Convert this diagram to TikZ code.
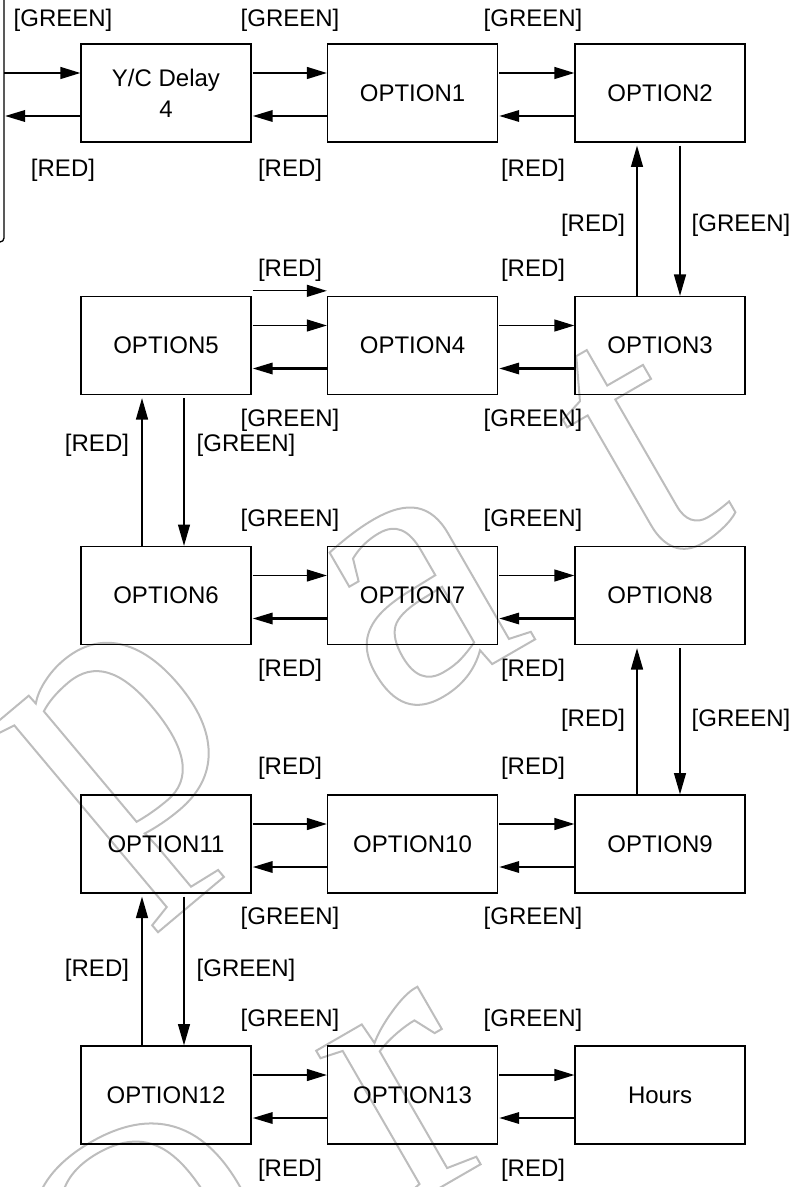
\documentclass[tikz,border=0pt]{standalone}
\usepackage{fontspec}
\setmainfont{Liberation Sans}
\newfontfamily\wmfont{Liberation Serif}
\usetikzlibrary{arrows.meta,calc}
\newcommand\wmletter[1]{\special{pdf:literal direct 0.74 G 1 Tr 1.5 w}#1\special{pdf:literal direct 0 Tr}}
\begin{document}
\begin{tikzpicture}[x=0.75pt,y=-0.75pt,
  box/.style={draw, line width=1pt, minimum width=127.5pt, minimum height=73.5pt, inner sep=0pt, font=\fontsize{18}{23.25}\selectfont, align=center},
  lbl/.style={inner sep=0pt, font=\fontsize{18}{22}\selectfont},
  fwd/.style={line width=1pt, -{Triangle[length=15pt,width=9pt]}},
  bwd/.style={line width=1.7pt, -{Triangle[length=15pt,width=8.5pt]}},
  vert/.style={line width=1pt, -{Triangle[length=16pt,width=9pt]}},
  wm/.style={inner sep=0pt, text=black!26, font=\wmfont\fontsize{295}{295}\selectfont, rotate=30}]
\useasboundingbox (0,0) rectangle (809,1187);
% watermark
\begin{scope}
\clip (0,0) rectangle (809,1187);
\node[wm, rotate=10] (wp) at (142,770) {\wmletter{p}};
\node[wm] (wa) at (419,602) {\wmletter{a}};
\node[wm] (wt) at (639,450) {\wmletter{t}};
\node[wm] (wr) at (410,1098) {\wmletter{r}};
\node[wm, font=\wmfont\fontsize{250}{250}\selectfont] (wo) at (147,1239) {\wmletter{O}};
\end{scope}
% boxes
\node[box] (yc) at (166,93) {Y/C Delay\\4};
\node[box] (o1) at (412.5,93) {OPTION1};
\node[box] (o2) at (660,93) {OPTION2};
\node[box] (o5) at (166,345.5) {OPTION5};
\node[box] (o4) at (412.5,345.5) {OPTION4};
\node[box] (o3) at (660,345.5) {OPTION3};
\node[box] (o6) at (166,595.5) {OPTION6};
\node[box] (o7) at (412.5,595.5) {OPTION7};
\node[box] (o8) at (660,595.5) {OPTION8};
\node[box] (o11) at (166,844) {OPTION11};
\node[box] (o10) at (412.5,844) {OPTION10};
\node[box] (o9) at (660,844) {OPTION9};
\node[box] (o12) at (166,1095) {OPTION12};
\node[box] (o13) at (412.5,1095) {OPTION13};
\node[box] (hr) at (660,1095) {Hours};
% entry line
\coordinate (ltop) at (4,-2);
\coordinate (lbot) at (-2,242);
\coordinate (inl) at (4,73);
\coordinate (outl) at (5,116);
\draw[line width=1pt, rounded corners=3pt] (ltop) -- (4,242) -- (lbot);
\draw[fwd] (inl) -- ($(yc.west)+(0,-20)$);
\draw[bwd] ($(yc.west)+(0,23)$) -- (outl);
% horizontal arrows
\foreach \a/\b in {yc/o1,o1/o2,o5/o4,o4/o3,o6/o7,o7/o8,o11/o10,o10/o9,o12/o13,o13/hr}{
  \draw[fwd] ($(\a.east)+(1,-20)$) -- ($(\b.west)+(0,-20)$);
  \draw[bwd] ($(\b.west)+(0,23)$) -- ($(\a.east)+(1,23)$);
}
\draw[fwd] ($(o5.north east)+(1,-5)$) -- ($(o4.north west)+(0,-5)$);
% vertical arrows
\draw[vert] ($(o3.north)+(-23,0)$) -- ($(o2.south)+(-23,3)$);
\draw[vert] ($(o2.south)+(20,3)$) -- ($(o3.north)+(20,0)$);
\draw[vert] ($(o6.north)+(-24,0)$) -- ($(o5.south)+(-24,3)$);
\draw[vert] ($(o5.south)+(18,3)$) -- ($(o6.north)+(18,0)$);
\draw[vert] ($(o9.north)+(-23,0)$) -- ($(o8.south)+(-23,3)$);
\draw[vert] ($(o8.south)+(20,3)$) -- ($(o9.north)+(20,0)$);
\draw[vert] ($(o12.north)+(-24,0)$) -- ($(o11.south)+(-24,3)$);
\draw[vert] ($(o11.south)+(18,3)$) -- ($(o12.north)+(18,0)$);
% labels row 1
\node[lbl] (g0) at (63,20) {[GREEN]};
\node[lbl] (r0) at (63,170) {[RED]};
\node[lbl] (g1) at (290,20) {[GREEN]};
\node[lbl] (r1) at (290,170) {[RED]};
\node[lbl] (g2) at (533,20) {[GREEN]};
\node[lbl] (r2) at (533,170) {[RED]};
% row 2
\node[lbl] (r3) at (290,270) {[RED]};
\node[lbl] (g3) at (290,420) {[GREEN]};
\node[lbl] (r4) at (533,270) {[RED]};
\node[lbl] (g4) at (533,420) {[GREEN]};
% row 3
\node[lbl] (g5) at (290,520) {[GREEN]};
\node[lbl] (r5) at (290,670) {[RED]};
\node[lbl] (g6) at (533,520) {[GREEN]};
\node[lbl] (r6) at (533,670) {[RED]};
% row 4
\node[lbl] (r7) at (290,768) {[RED]};
\node[lbl] (g7) at (290,918) {[GREEN]};
\node[lbl] (r8) at (533,768) {[RED]};
\node[lbl] (g8) at (533,918) {[GREEN]};
% row 5
\node[lbl] (g9) at (290,1020) {[GREEN]};
\node[lbl] (r9) at (290,1170) {[RED]};
\node[lbl] (g10) at (533,1020) {[GREEN]};
\node[lbl] (r10) at (533,1170) {[RED]};
% vertical labels
\node[lbl] (vr1) at (593,225) {[RED]};
\node[lbl] (vg1) at (741,225) {[GREEN]};
\node[lbl] (vr2) at (97,445) {[RED]};
\node[lbl] (vg2) at (246,445) {[GREEN]};
\node[lbl] (vr3) at (593,720) {[RED]};
\node[lbl] (vg3) at (741,720) {[GREEN]};
\node[lbl] (vr4) at (97,970) {[RED]};
\node[lbl] (vg4) at (246,970) {[GREEN]};
\end{tikzpicture}
\end{document}
